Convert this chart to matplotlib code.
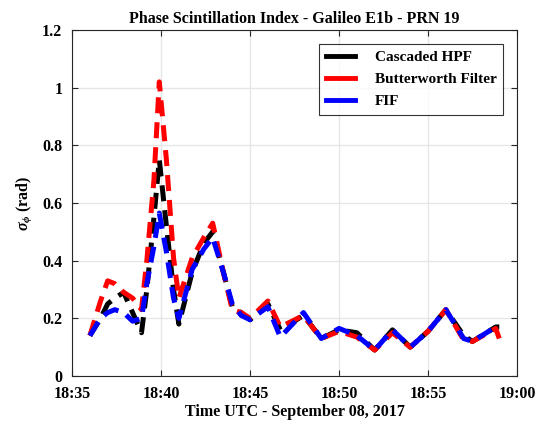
import numpy as np
import pandas as pd
import matplotlib
matplotlib.use("Agg")
import matplotlib.pyplot as plt
import matplotlib.dates as mdates

plt.rcParams['font.family'] = ['Liberation Serif', 'DejaVu Serif']
plt.rcParams['font.weight'] = 'bold'
plt.rcParams['mathtext.fontset'] = 'custom'
plt.rcParams['mathtext.rm'] = 'Liberation Serif:bold'
plt.rcParams['mathtext.it'] = 'Liberation Serif:italic:bold'

# minuti dopo le 18:35
minutes = [1.0, 1.6, 2.0, 2.4, 2.9, 3.4, 3.9, 4.2, 4.6, 4.9, 5.3, 5.7, 6.0, 6.75,
           7.4, 7.9, 8.5, 9.0, 9.5, 10.0, 11.0, 11.7, 13.0, 14.0, 15.0, 16.0,
           17.0, 18.0, 19.0, 20.0, 21.0, 22.0, 22.5, 23.8, 24.0]

cascaded_hpf = [0.14, 0.20, 0.25, 0.27, 0.29, 0.22, 0.15, 0.30, 0.55, 0.75, 0.52,
                0.30, 0.18, 0.36, 0.46, 0.50, 0.36, 0.24, 0.22, 0.195, 0.25, 0.16,
                0.21, 0.13, 0.16, 0.15, 0.09, 0.16, 0.10, 0.155, 0.23, 0.14, 0.12,
                0.17, 0.17]
butterworth = [0.14, 0.26, 0.33, 0.32, 0.29, 0.27, 0.23, 0.40, 0.68, 1.02, 0.75,
               0.41, 0.27, 0.41, 0.48, 0.53, 0.36, 0.23, 0.22, 0.20, 0.26, 0.17,
               0.21, 0.13, 0.155, 0.135, 0.09, 0.15, 0.10, 0.155, 0.23, 0.125,
               0.12, 0.165, 0.13]
fif = [0.14, 0.20, 0.22, 0.23, 0.22, 0.19, 0.20, 0.32, 0.45, 0.565, 0.43, 0.27,
       0.20, 0.37, 0.44, 0.48, 0.36, 0.25, 0.21, 0.195, 0.24, 0.135, 0.22, 0.13,
       0.165, 0.14, 0.09, 0.16, 0.10, 0.155, 0.23, 0.13, 0.12, 0.17, 0.17]

t0 = pd.Timestamp('2017-09-08 18:35:00')
times = t0 + pd.to_timedelta(minutes, unit='m')

fig = plt.figure(figsize=(5.46, 4.28), dpi=100)
ax = fig.add_axes([0.132, 0.1215, 0.815, 0.8085])

lw = 3.6
ax.plot(times, cascaded_hpf, '--', color='black', lw=lw, dashes=(3.2, 1.8), label='Cascaded HPF')
ax.plot(times, butterworth, '--', color='red', lw=lw, dashes=(3.2, 1.8), label='Butterworth Filter')
ax.plot(times, fif, '--', color='blue', lw=lw, dashes=(3.2, 1.8), label='FIF')

ax.set_xlim(t0, t0 + pd.Timedelta(minutes=25))
ax.set_ylim(0, 1.2)
ax.xaxis.set_major_locator(mdates.MinuteLocator(byminute=range(0, 60, 5)))
ax.xaxis.set_major_formatter(mdates.DateFormatter('%H:%M'))
ax.set_yticks(np.arange(0, 1.21, 0.2))
ax.set_yticklabels(['0', '0.2', '0.4', '0.6', '0.8', '1', '1.2'])

ax.grid(True, color='#e6e6e6', lw=1.0)
ax.set_axisbelow(True)
ax.tick_params(direction='in', length=4, width=0.8, labelsize=11.5, top=True, right=True,
               colors='#262626', labelcolor='black')
ax.tick_params(axis='x', pad=7)
ax.tick_params(axis='y', pad=7)
for s in ax.spines.values():
    s.set_color('#262626')
    s.set_linewidth(0.8)

ax.set_title('Phase Scintillation Index - Galileo E1b - PRN 19', fontsize=11.5,
             fontweight='bold', pad=5)
ax.set_xlabel('Time UTC - September 08, 2017', fontsize=11.5, fontweight='bold', labelpad=2)
ax.set_ylabel(r'$\sigma_{\phi}$ (rad)', fontsize=11.5, fontweight='bold', labelpad=6)

leg = ax.legend(loc='upper right', fontsize=11, frameon=True, fancybox=False,
                edgecolor='black', handlelength=1.9, borderaxespad=0.9,
                labelspacing=0.55, handletextpad=1.3, borderpad=0.45)
leg.get_frame().set_linewidth(0.8)
for h in leg.get_lines():
    h.set_linestyle('-')
    h.set_linewidth(3.5)

fig.savefig('out.png', dpi=100)
